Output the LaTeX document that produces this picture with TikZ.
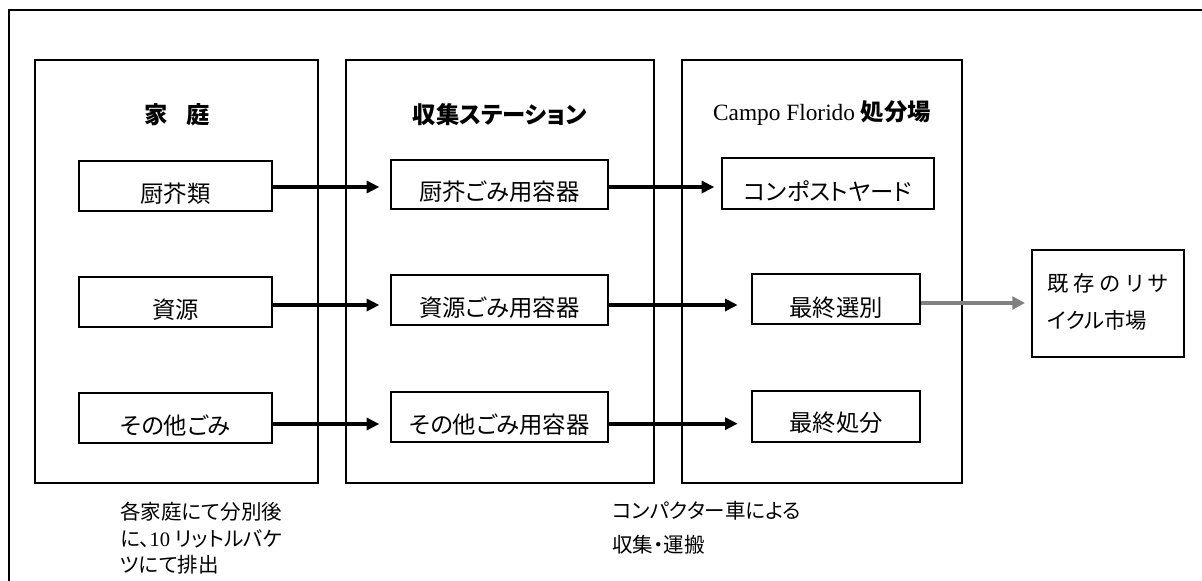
\documentclass[tikz,border=0pt]{standalone}
\usepackage{fontspec}
\setmainfont{Liberation Serif}
\newfontfamily\cjk[RawFeature=+palt]{Noto Sans CJK JP}
\usetikzlibrary{arrows.meta}
\tikzset{
  px/.style 2 args={minimum width=#1*0.75pt, minimum height=#2*0.75pt},
  big/.style={draw, line width=0.8pt, inner sep=0pt},
  box/.style={draw, line width=1.5pt, inner sep=0pt},
  lbl/.style={inner sep=0pt, font=\fontsize{17.5}{21}\cjk},
  ttl/.style={inner sep=0pt, font=\fontsize{17.5}{21}\bfseries\cjk},
  note/.style={inner sep=0pt, align=left},
  arr/.style={line width=3pt, -{Triangle[length=9.5pt,width=9pt]}},
  garr/.style={draw={rgb,255:red,128;green,128;blue,128}, line width=3pt, -{Triangle[length=9.5pt,width=9.5pt]}},
}
\begin{document}
\begin{tikzpicture}[x=0.75pt, y=-0.75pt]
\useasboundingbox (0,0) rectangle (1202,581);
% outer frame (only top and left visible)
\draw[line width=1.5pt] (8.5,581) -- (8.5,10.5) -- (1202,10.5);
% big boxes
\node[big, px={283}{423}] (b1) at (176.5,271.5) {};
\node[big, px={308}{423}] (b2) at (500,271.5) {};
\node[big, px={280}{423}] (b3) at (822,271.5) {};
% titles
\node[ttl] (t1) at (177,115) {家\hspace{0.8em}庭};
\node[ttl] (t2) at (500,115) {収集ステーション};
\node[ttl, font=\fontsize{17.5}{21}\selectfont] (t3) at (822,113) {Campo Florido {\bfseries\cjk 処分場}};
% column 1
\node[box, px={193}{50}] (k1) at (175.5,186) {};
\node[box, px={193}{50}] (r1) at (175.5,302) {};
\node[box, px={193}{50}] (o1) at (175.5,418) {};
% column 2
\node[box, px={217}{49}] (k2) at (499.5,184.5) {};
\node[box, px={217}{50}] (r2) at (499.5,300) {};
\node[box, px={217}{50}] (o2) at (499.5,417) {};
% column 3
\node[box, px={212}{51}] (k3) at (828,183.5) {};
\node[box, px={168}{50}] (r3) at (836,299) {};
\node[box, px={168}{51}] (o3) at (836,416.5) {};
% recycle market
\node[box, px={152}{107}] (rc) at (1108,303.5) {};
% labels
\node[lbl] (k1t) at ([yshift=-6pt]k1.center) {厨芥類};
\node[lbl] (r1t) at ([yshift=-6pt]r1.center) {資源};
\node[lbl] (o1t) at ([yshift=-6pt]o1.center) {その他ごみ};
\node[lbl] (k2t) at ([yshift=-5.5pt]k2.center) {厨芥ごみ用容器};
\node[lbl] (r2t) at ([yshift=-6pt]r2.center) {資源ごみ用容器};
\node[lbl] (o2t) at ([yshift=-6pt]o2.center) {その他ごみ用容器};
\node[lbl] (k3t) at ([yshift=-6pt]k3.center) {コンポストヤード};
\node[lbl] (r3t) at ([yshift=-6.5pt]r3.center) {最終選別};
\node[lbl] (o3t) at ([yshift=-4.5pt]o3.center) {最終処分};
\node[note, anchor=north west, font=\fontsize{16}{27.75}\cjk] (rct) at (1047,273)
  {\makebox[91pt][s]{既\hfil 存\hfil の\hfil リ\hfil サ}\\イクル市場};
% arrows
\draw[arr, shorten >=8pt] ([yshift=-0.75pt]k1.east) -- ([yshift=-0.75pt]k1.east -| k2.west);
\draw[arr, shorten >=5pt] ([yshift=-1.9pt]k2.east) -- ([yshift=-1.9pt]k2.east -| k3.west);
\draw[arr, shorten >=8pt] ([yshift=-2.25pt]r1.east) -- ([yshift=-2.25pt]r1.east -| r2.west);
\draw[arr, shorten >=10pt] ([yshift=-3.75pt]r2.east) -- ([yshift=-3.75pt]r2.east -| r3.west);
\draw[arr, shorten >=8pt] ([yshift=-4.5pt]o1.east) -- ([yshift=-4.5pt]o1.east -| o2.west);
\draw[arr, shorten >=10pt] ([yshift=-5pt]o2.east) -- ([yshift=-5pt]o2.east -| o3.west);
\draw[garr, shorten >=4.5pt] ([yshift=-3pt]r3.east) -- ([yshift=-3pt]r3.east -| rc.west);
% notes
\node[note, anchor=north west, font=\fontsize{15.4}{19.9}\cjk] (n1) at (120,502)
  {各家庭にて分別後\\に、{\rmfamily 10 }リットルバケ\\ツにて排出};
\node[note, anchor=north west, font=\fontsize{15.4}{25.5}\cjk] (n2) at (612,501)
  {コンパクター車による\\収集・運搬};
\end{tikzpicture}
\end{document}
